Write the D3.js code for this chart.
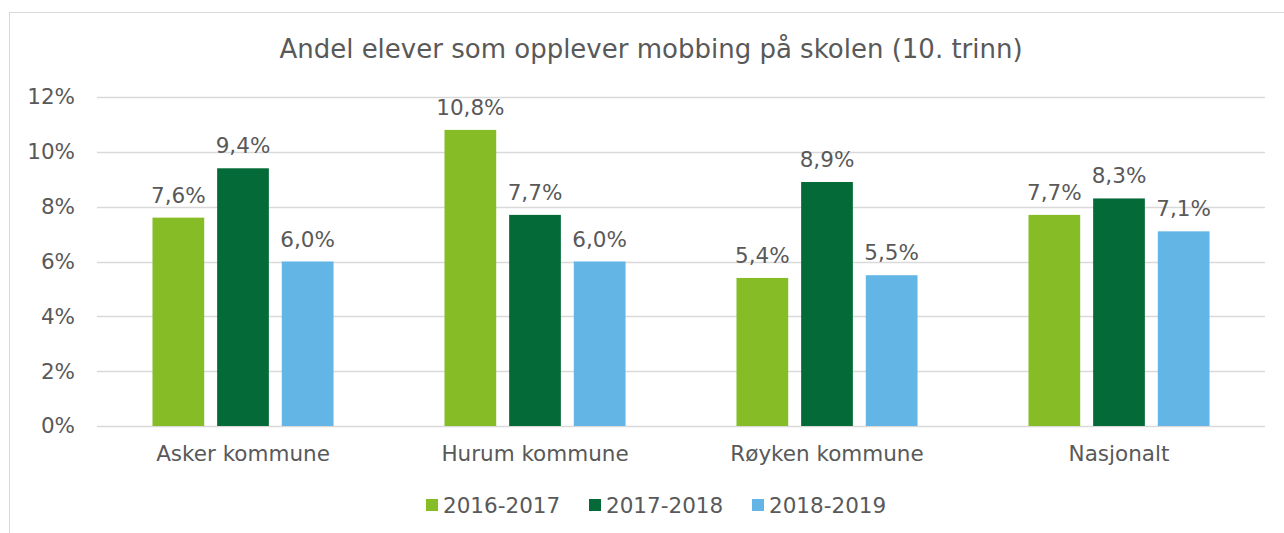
<!DOCTYPE html>
<html>
<head>
<meta charset="utf-8">
<script src="https://cdn.jsdelivr.net/npm/d3@7"></script>
<style>
  body { margin: 0; background: #fff; }
  text { font-family: "DejaVu Sans", Verdana, sans-serif; fill: #595959; }
</style>
</head>
<body>
<svg id="chart" width="1284" height="533"></svg>
<script>
const categories = ['Asker kommune', 'Hurum kommune', 'Røyken kommune', 'Nasjonalt']
const seriesNames = ['2016-2017', '2017-2018', '2018-2019']
const values2016 = [7.6, 10.8, 5.4, 7.7]
const values2017 = [9.4, 7.7, 8.9, 8.3]
const values2018 = [6.0, 6.0, 5.5, 7.1]
const yTicks = [0, 2, 4, 6, 8, 10, 12]
const colors = ['#86bc25', '#046a38', '#62b5e5']

const seriesValues = [values2016, values2017, values2018]
const fmt = v => d3.format('.1f')(v).replace('.', ',') + '%'

const svg = d3.select('#chart')
const margin = {left: 97, right: 19, top: 97, bottom: 107}
const W = 1284, H = 533

// chart border (only top and left edges fall inside the picture)
svg.append('rect')
  .attr('x', 9.5).attr('y', 12.5)
  .attr('width', W + 20).attr('height', H + 20)
  .attr('fill', 'none').attr('stroke', '#d9d9d9')

svg.append('text')
  .attr('x', 651).attr('y', 58)
  .attr('text-anchor', 'middle')
  .style('font-size', '26px')
  .text('Andel elever som opplever mobbing på skolen (10. trinn)')

let x0 = d3.scaleBand()
  .domain(categories)
  .range([margin.left, W - margin.right])
  .paddingInner(0.38)
  .paddingOuter(0.19)

let x1 = d3.scaleBand()
  .domain(seriesNames)
  .range([0, x0.bandwidth()])
  .paddingInner(0.2)

let y = d3.scaleLinear()
  .domain([0, 12])
  .range([H - margin.bottom, margin.top])

// gridlines
svg.append('g')
  .selectAll('line')
  .data(yTicks)
  .enter().append('line')
  .attr('x1', margin.left).attr('x2', W - margin.right)
  .attr('y1', d => Math.round(y(d)) + 0.5).attr('y2', d => Math.round(y(d)) + 0.5)
  .attr('stroke', '#d9d9d9')
  .attr('stroke-width', 1.5)

let yAxis = d3.axisLeft(y)
  .tickValues(yTicks)
  .tickFormat(d => d + '%')
  .tickSize(0)
  .tickPadding(22)

svg.append('g')
  .attr('transform', 'translate(' + margin.left + ',0)')
  .call(yAxis)
  .call(g => g.select('.domain').remove())
  .selectAll('text')
  .style('font-size', '21.5px')
  .attr('fill', '#595959')

let xAxis = d3.axisBottom(x0)
  .tickSize(0)
  .tickPadding(20)

svg.append('g')
  .attr('transform', 'translate(0,' + (H - margin.bottom) + ')')
  .call(xAxis)
  .call(g => g.select('.domain').remove())
  .selectAll('text')
  .style('font-size', '21.5px')
  .attr('fill', '#595959')

let groups = svg.selectAll('.category')
  .data(categories)
  .enter().append('g')
  .attr('class', 'category')
  .attr('transform', d => 'translate(' + x0(d) + ',0)')

groups.selectAll('rect')
  .data((d, i) => seriesNames.map((s, j) => ({series: s, value: seriesValues[j][i], color: colors[j]})))
  .enter().append('rect')
  .attr('x', d => x1(d.series))
  .attr('y', d => y(d.value))
  .attr('width', x1.bandwidth())
  .attr('height', d => y(0) - y(d.value))
  .attr('fill', d => d.color)

groups.selectAll('.bar-label')
  .data((d, i) => seriesNames.map((s, j) => ({series: s, value: seriesValues[j][i]})))
  .enter().append('text')
  .attr('class', 'bar-label')
  .attr('x', d => x1(d.series) + x1.bandwidth() / 2)
  .attr('y', d => y(d.value) - 15)
  .attr('text-anchor', 'middle')
  .style('font-size', '21.5px')
  .text(d => fmt(d.value))

// legend
let legend = svg.append('g')
  .attr('transform', 'translate(426,0)')
let items = legend.selectAll('g')
  .data(seriesNames)
  .enter().append('g')
  .attr('transform', (d, i) => 'translate(' + (i * 163) + ',0)')
items.append('rect')
  .attr('x', 0).attr('y', 499)
  .attr('width', 12).attr('height', 12)
  .attr('fill', (d, i) => colors[i])
items.append('text')
  .attr('x', 17).attr('y', 513)
  .style('font-size', '21.5px')
  .text(d => d)
</script>
</body>
</html>
